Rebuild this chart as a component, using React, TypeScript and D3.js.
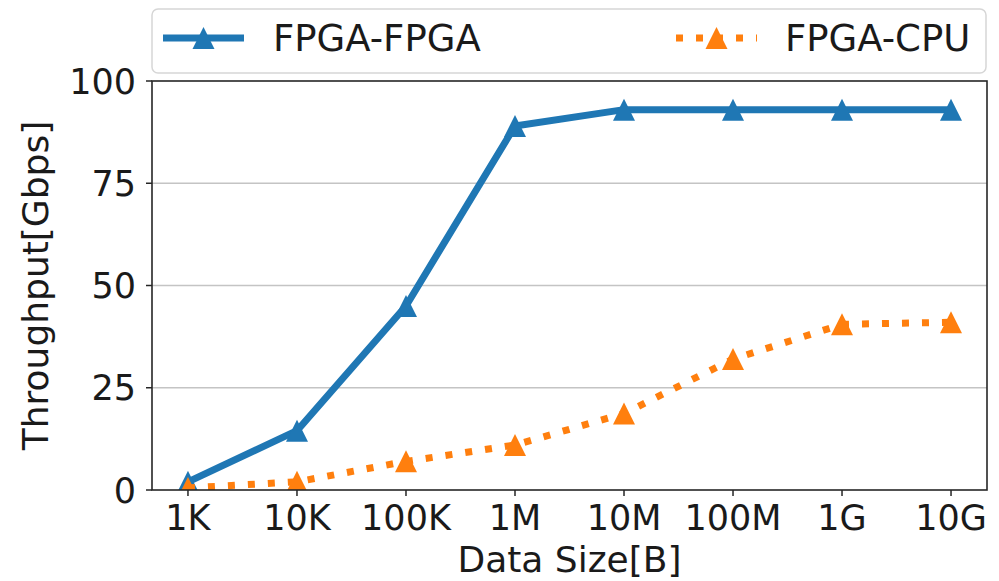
import React from 'react';
import * as d3 from 'd3';

const sizes = ['1K', '10K', '100K', '1M', '10M', '100M', '1G', '10G'];
const fpgaFpga = [2, 14.5, 45, 89, 93, 93, 93, 93];
const fpgaCpu = [0.5, 2, 7, 11, 18.7, 32, 40.5, 41];
const yTicks = [0, 25, 50, 75, 100];

const W = 999;
const H = 581;
const margin = { top: 81, right: 12, bottom: 91, left: 152 };
const FONT = 'DejaVu Sans, sans-serif';
const BLUE = '#1f77b4';
const ORANGE = '#ff7f0e';

const tri = (x: number, y: number, s: number) =>
    `M${x},${y - s / 2}L${x - s / 2},${y + s / 2}L${x + s / 2},${y + s / 2}Z`;

const App = () => {
    const x0 = margin.left;
    const x1 = W - margin.right;
    const y0 = H - margin.bottom;
    const y1 = margin.top;

    const x = d3.scalePoint<string>().domain(sizes).range([x0, x1]).padding(0.33);
    const y = d3.scaleLinear().domain([0, 100]).range([y0, y1]);

    const line = d3.line<number>()
        .x((_, i) => x(sizes[i]) as number)
        .y(d => y(d));

    const series = [
        { name: 'FPGA-FPGA', values: fpgaFpga, color: BLUE, dash: null as string | null },
        { name: 'FPGA-CPU', values: fpgaCpu, color: ORANGE, dash: '7,13' },
    ];

    // legend handles
    const legend = [
        { ...series[0], hx0: 163, hx1: 244, tx: 273 },
        { ...series[1], hx0: 676, hx1: 757, tx: 785 },
    ];
    const ly = 38;

    return (
        <svg width={W} height={H} style={{ position: 'absolute', left: 0, top: 0, background: '#fff' }}>
            <defs>
                <clipPath id="plot-clip">
                    <rect x={x0} y={y1} width={x1 - x0} height={y0 - y1} />
                </clipPath>
            </defs>

            {/* grid */}
            {yTicks.slice(1, -1).map(t => (
                <line key={t} x1={x0} x2={x1} y1={y(t)} y2={y(t)} stroke="#c4c4c4" strokeWidth={1.5} />
            ))}

            {/* series */}
            <g clipPath="url(#plot-clip)">
                {series.map(s => (
                    <g key={s.name}>
                        <path d={line(s.values) || ''} fill="none" stroke={s.color} strokeWidth={7}
                            strokeDasharray={s.dash || undefined} strokeLinejoin="round" />
                        {s.values.map((v, i) => (
                            <path key={i} d={tri(x(sizes[i]) as number, y(v), 22)} fill={s.color} />
                        ))}
                    </g>
                ))}
            </g>

            {/* frame */}
            <rect x={x0} y={y1} width={x1 - x0} height={y0 - y1} fill="none" stroke="#262626" strokeWidth={1.6} />

            {/* y ticks */}
            {yTicks.map(t => (
                <g key={t}>
                    <line x1={x0 - 6} x2={x0} y1={y(t)} y2={y(t)} stroke="#262626" strokeWidth={1.5} />
                    <text x={x0 - 16} y={y(t)} dy="0.36em" textAnchor="end" fontFamily={FONT} fontSize={35} fill="#1a1a1a">{t}</text>
                </g>
            ))}

            {/* x ticks */}
            {sizes.map(s => (
                <g key={s}>
                    <line x1={x(s)} x2={x(s)} y1={y0} y2={y0 + 6} stroke="#262626" strokeWidth={1.5} />
                    <text x={x(s)} y={530} textAnchor="middle" fontFamily={FONT} fontSize={35} fill="#1a1a1a">{s}</text>
                </g>
            ))}

            {/* axis labels */}
            <text x={(x0 + x1) / 2} y={572} textAnchor="middle" fontFamily={FONT} fontSize={36} fill="#1a1a1a">Data Size[B]</text>
            <text transform={`translate(48,${(y0 + y1) / 2}) rotate(-90)`} textAnchor="middle" fontFamily={FONT} fontSize={36} fill="#1a1a1a">Throughput[Gbps]</text>

            {/* legend */}
            <rect x={152} y={9} width={834} height={64} rx={6} fill="#fff" stroke="#d6d6d6" strokeWidth={1.5} />
            {legend.map(l => (
                <g key={l.name}>
                    <line x1={l.hx0} x2={l.hx1} y1={ly} y2={ly} stroke={l.color} strokeWidth={7}
                        strokeDasharray={l.dash || undefined} />
                    <path d={tri((l.hx0 + l.hx1) / 2, ly, 22)} fill={l.color} />
                    <text x={l.tx} y={ly} dy="0.36em" fontFamily={FONT} fontSize={37} fill="#1a1a1a">{l.name}</text>
                </g>
            ))}
        </svg>
    );
};

export default App;
